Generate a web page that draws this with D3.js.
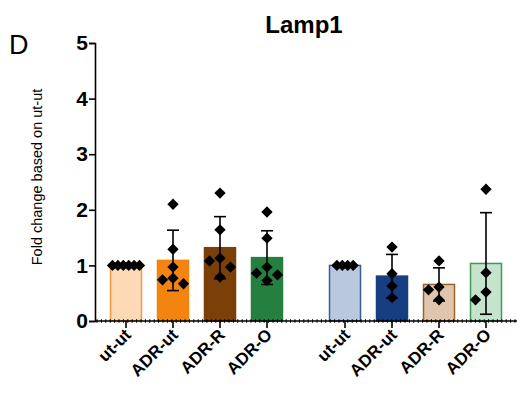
<!DOCTYPE html>
<html><head><meta charset="utf-8">
<script src="https://cdn.jsdelivr.net/npm/d3@7"></script>
<style>body{margin:0;background:#fff}svg{display:block}text{font-family:"Liberation Sans",Arial,sans-serif}</style>
</head><body>
<svg id="c" width="517" height="394"></svg>
<script>
const categories = ["ut-ut","ADR-ut","ADR-R","ADR-O","ut-ut","ADR-ut","ADR-R","ADR-O"];
const groupOf = [0,0,0,0,1,1,1,1];
const points = [
  [1,1,1,1,1,1],
  [2.10,1.29,0.97,0.77,0.74,0.67],
  [2.30,1.64,1.13,1.08,0.97,0.79],
  [1.96,1.49,0.97,0.86,0.83,0.73],
  [1,1,1,1],
  [1.33,0.85,0.63,0.42],
  [1.08,0.61,0.56,0.38],
  [2.37,0.87,0.52,0.38]
];
const fills   = ["#fdd9b5","#f2840f","#7b3f08","#25803f","#b9c8de","#173e80","#dfc5ad","#c6e3cb"];
const strokes = ["#f29a3e","#f2840f","#7b3f08","#25803f","#3a5d9e","#173e80","#a0602a","#3f9a56"];
const yTicks = [0,1,2,3,4,5];
const title = "Lamp1";
const yLabel = "Fold change based on ut-ut";
const panel = "D";

const svg = d3.select("#c");
const y = d3.scaleLinear().domain([0,5]).range([321,43]);
const groupGap = 0.66;
const x = d3.scaleLinear().domain([0, 7 + groupGap]).range([126,486]);
const xi = i => x(i + groupOf[i]*groupGap);
const barW = 31;

// bars
const stats = points.map(p => ({mean: d3.mean(p), sd: p.length>1 ? d3.deviation(p) : 0}));
svg.append("g").selectAll("rect").data(stats).join("rect")
  .attr("x",(d,i)=>xi(i)-barW/2).attr("width",barW)
  .attr("y",d=>y(d.mean)).attr("height",d=>y(0)-y(d.mean))
  .attr("fill",(d,i)=>fills[i]).attr("stroke",(d,i)=>strokes[i]).attr("stroke-width",1.5);

// error bars
const eb = svg.append("g").attr("stroke","#000").attr("stroke-width",1.6);
stats.forEach((d,i)=>{
  if (d.sd < 1e-6) return;
  const cx = xi(i), t = y(d.mean+d.sd), b = y(Math.max(0,d.mean-d.sd));
  eb.append("line").attr("x1",cx).attr("x2",cx).attr("y1",t).attr("y2",b);
  eb.append("line").attr("x1",cx-6).attr("x2",cx+6).attr("y1",t).attr("y2",t);
  eb.append("line").attr("x1",cx-6).attr("x2",cx+6).attr("y1",b).attr("y2",b);
});

// points with dodge
const sym = d3.symbol().type(d3.symbolSquare).size(64)();
const pg = svg.append("g");
points.forEach((p,i)=>{
  const cx = xi(i);
  const allSame = p.every(v=>v===p[0]);
  let placed = [];
  if (allSame) {
    const step = 5.4;
    p.forEach((v,k)=>placed.push([cx+(k-(p.length-1)/2)*step, y(v)]));
  } else {
    const d = 10.5;
    [...p].sort((a,b)=>b-a).forEach(v=>{
      const py = y(v);
      for (const o of [0,-1,1,-2,2]) {
        const px = cx + o*d;
        if (placed.every(q=>Math.hypot(q[0]-px,q[1]-py) >= d)) { placed.push([px,py]); break; }
      }
    });
  }
  placed.forEach(q=>pg.append("path").attr("d",sym).attr("transform",`translate(${q[0]},${q[1]}) rotate(45)`).attr("fill","#000"));
});

// y axis
const ya = svg.append("g").attr("transform","translate(95,0)")
  .call(d3.axisLeft(y).tickValues(yTicks).tickSize(6).tickFormat(d3.format("d")));
ya.select(".domain").attr("stroke","#000").attr("stroke-width",1.6);
ya.selectAll(".tick line").attr("stroke","#000").attr("stroke-width",1.6);
ya.selectAll(".tick text").attr("font-size",21).attr("font-weight","bold").attr("fill","#000").attr("x",-7)
  .attr("font-family","'Liberation Sans',Arial,sans-serif");

// baseline with minor dotted ticks
const bl = svg.append("g").attr("stroke","#000");
bl.append("line").attr("x1",95).attr("x2",517).attr("y1",y(0)).attr("y2",y(0)).attr("stroke-width",1.6);
d3.range(97,517,4.4).forEach(px=>bl.append("line").attr("x1",px).attr("x2",px).attr("y1",y(0)-1.8).attr("y2",y(0)+1.8).attr("stroke-width",1));
categories.forEach((c,i)=>{
  const cx = xi(i);
  bl.append("line").attr("x1",cx).attr("x2",cx).attr("y1",y(0)).attr("y2",y(0)+7).attr("stroke-width",1.6);
  svg.append("text").text(c).attr("text-anchor","end").attr("font-size",17).attr("font-weight","bold")
    .attr("transform",`translate(${cx+6},${y(0)+15}) rotate(-45)`);
});

// texts
svg.append("text").text(title).attr("x",304).attr("y",33).attr("text-anchor","middle").attr("font-size",24).attr("font-weight","bold");
svg.append("text").text(panel).attr("x",9).attr("y",54).attr("font-size",27);
svg.append("text").text(yLabel).attr("transform","translate(42,177) rotate(-90)").attr("text-anchor","middle").attr("font-size",14.5);
</script>
</body></html>
